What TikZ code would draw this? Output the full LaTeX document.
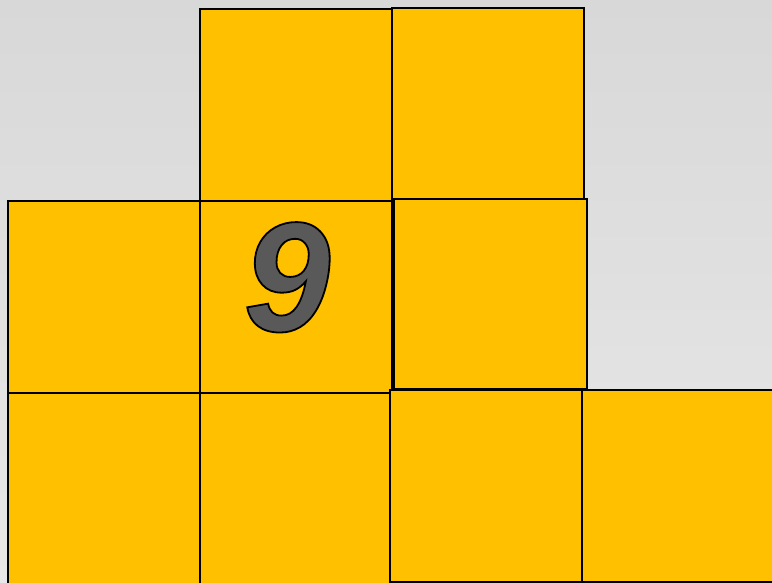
\documentclass[tikz,border=0pt]{standalone}
\usepackage{fontspec}
\setmainfont{Liberation Sans}
\definecolor{sqfill}{HTML}{FFC000}
\definecolor{ninegray}{HTML}{595959}
\newcommand{\outlinedtext}[1]{{\color{ninegray}\special{pdf:literal direct 0 0 0 RG 2 Tr 1.8 w}#1\special{pdf:literal direct 0 Tr}}}
\begin{document}
\begin{tikzpicture}[x=1pt,y=-1pt,
  sq/.style={draw=black, line width=1.6pt, fill=sqfill, minimum size=192pt, inner sep=0pt, outer sep=0pt, anchor=north west}]
\useasboundingbox (0,0) rectangle (772,583);
\clip (0,0) rectangle (772,583);
\fill[top color={rgb,255:red,216;green,216;blue,216}, bottom color={rgb,255:red,232;green,232;blue,232}] (0,0) rectangle (772,583);
\node[sq] (a) at (200,9) {};
\node[sq] (b) at (392,8) {};
\node[sq] (c) at (8,201) {};
\node[sq] (d) at (200,201) {};
\node[sq, minimum width=193pt, minimum height=190pt, line width=1.3pt] (e) at (394,199) {};
\node[sq] (f) at (8,393) {};
\node[sq] (g) at (200,393) {};
\node[sq] (h) at (390,390) {};
\node[sq] (i) at (582,390) {};
\node[anchor=base, inner sep=0pt] (nine) at (287,331) {\fontsize{156}{156}\selectfont\bfseries\itshape\outlinedtext{9}};
\end{tikzpicture}
\end{document}
